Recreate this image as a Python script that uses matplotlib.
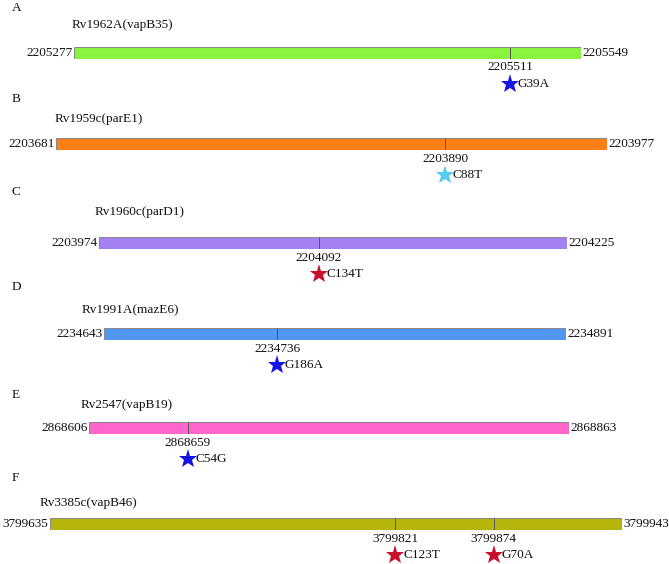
import matplotlib
matplotlib.use("Agg")
import matplotlib.pyplot as plt

# gene / mutation data
panel_letters = ['A', 'B', 'C', 'D', 'E', 'F']
gene_names = ['Rv1962A(vapB35)', 'Rv1959c(parE1)', 'Rv1960c(parD1)',
              'Rv1991A(mazE6)', 'Rv2547(vapB19)', 'Rv3385c(vapB46)']
gene_starts = [2205277, 2203681, 2203974, 2234643, 2868606, 3799635]
gene_ends = [2205549, 2203977, 2204225, 2234891, 2868863, 3799943]
mut_positions = [[2205511], [2203890], [2204092], [2234736], [2868659], [3799821, 3799874]]
mut_names = [['G39A'], ['C88T'], ['C134T'], ['G186A'], ['C54G'], ['C123T', 'G70A']]
star_colors = [['#1414e6'], ['#55ccf0'], ['#c8102e'], ['#1414e6'], ['#1414e6'], ['#c8102e', '#c8102e']]
bar_colors = ['#88f53c', '#ff7f14', '#a480f5', '#5096f2', '#ff66cc', '#b5b50b']

# layout in pixels (from top-left of the 669x564 picture)
W, H = 669, 564
bar_x = [(74, 581), (56, 607), (99, 567), (104, 566), (89, 569), (50, 622)]
bar_top = [47, 138, 237, 328, 422, 518]
bar_h = 11.5
letter_y = [8, 99, 192, 287, 395, 478]
name_xy = [(72, 25), (55, 119), (95, 212), (82, 310), (81, 405), (40, 503)]

plt.rcParams['font.family'] = ['Liberation Serif', 'DejaVu Serif']
FS = 9.5
TXT = '#111111'

fig = plt.figure(figsize=(W / 100, H / 100), dpi=100)

for i in range(6):
    x0, x1 = bar_x[i]
    ax = fig.add_axes([x0 / W, 1 - (bar_top[i] + bar_h) / H, (x1 - x0) / W, bar_h / H])
    ax.set_xlim(gene_starts[i], gene_ends[i])
    ax.set_ylim(bar_h, 0)  # y in pixels below the bar top
    ax.axis('off')

    ax.barh(bar_h / 2, gene_ends[i] - gene_starts[i], left=gene_starts[i], height=bar_h,
            color=bar_colors[i], edgecolor='#8a8a8a', linewidth=0.8)

    ax.annotate(str(gene_starts[i]), (gene_starts[i], bar_h / 2), xytext=(-1.2, 0),
                textcoords='offset points', ha='right', va='center', fontsize=FS,
                color=TXT, annotation_clip=False)
    ax.annotate(str(gene_ends[i]), (gene_ends[i], bar_h / 2), xytext=(1.2, 0),
                textcoords='offset points', ha='left', va='center', fontsize=FS,
                color=TXT, annotation_clip=False)

    for m, nm, c in zip(mut_positions[i], mut_names[i], star_colors[i]):
        ax.vlines(m, 0, bar_h, color='#555555', linewidth=0.7)
        ax.text(m, bar_h + 9, str(m), ha='center', va='center', fontsize=FS,
                color=TXT, clip_on=False)
        ax.plot(m, bar_h + 25, marker='*', markersize=14, color=c, clip_on=False,
                markeredgewidth=0)
        ax.annotate(nm, (m, bar_h + 25), xytext=(5.5, -0.5), textcoords='offset points',
                    ha='left', va='center', fontsize=FS, color=TXT, annotation_clip=False)

    fig.text(12 / W, 1 - letter_y[i] / H, panel_letters[i], ha='left', va='center',
             fontsize=FS, color=TXT)
    fig.text(name_xy[i][0] / W, 1 - name_xy[i][1] / H, gene_names[i], ha='left',
             va='center', fontsize=FS, color=TXT)

fig.savefig('out.png', dpi=100)
